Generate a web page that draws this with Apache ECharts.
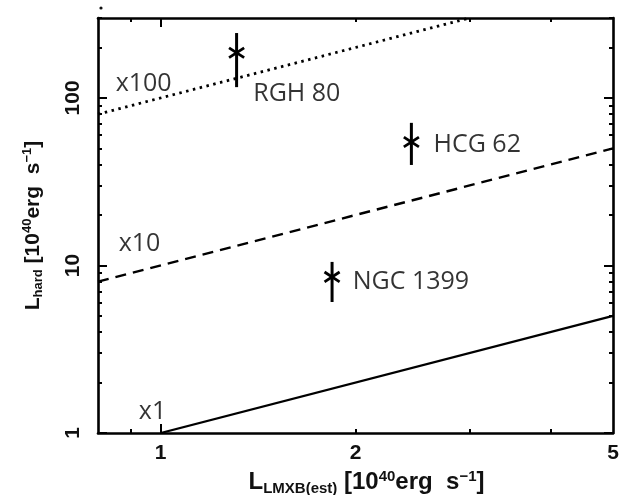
<!DOCTYPE html>
<html><head><meta charset="utf-8">
<script src="https://cdn.jsdelivr.net/npm/echarts@6/dist/echarts.min.js"></script>
<style>html,body{margin:0;padding:0;background:#fff}#c{width:639px;height:495px}</style>
</head><body><div id="c"></div>
<script>
// ---- data ----
const xRange = [0.8, 5];
const yRange = [1, 300];
const xMajorTicks = [1];
const xMinorTicks = [0.9, 2, 3, 4];
const xTickLabels = [1, 2, 5];
const yMajorTicks = [1, 10, 100];
const yMinorTicks = [2, 3, 4, 5, 6, 7, 8, 9, 20, 30, 40, 50, 60, 70, 80, 90, 200, 300];
const yTickLabels = [1, 10, 100];

const ratio1X = [1, 5];
const ratio1Y = [1, 5];
const ratio10X = [0.8, 5];
const ratio10Y = [8, 50];
const ratio100X = [0.8, 3];
const ratio100Y = [80, 300];

const galaxyNames = ['RGH 80', 'HCG 62', 'NGC 1399'];
const galaxyX = [1.31, 2.44, 1.84];
const galaxyY = [186, 54.6, 8.54];
const galaxyLo = [116, 39.8, 6.05];
const galaxyHi = [244, 71, 10.5];

const annotationText = ['x100', 'x10', 'x1', 'RGH 80', 'HCG 62', 'NGC 1399'];
const annotationX = [0.852, 0.861, 0.925, 1.39, 2.64, 1.98];
const annotationY = [121, 13.4, 1.33, 105.7, 52.4, 7.97];

// ---- chart ----
const chart = echarts.init(document.getElementById('c'), null, {renderer: 'canvas'});
const black = '#000';
const lw = 2.6;

function pairs(xs, ys) { return xs.map((x, i) => [x, ys[i]]); }

function xAxisDef(pos, ticks, len, labels, withLine, name) {
  return {
    type: 'log', logBase: 10, min: xRange[0], max: xRange[1], position: pos,
    axisLine: {show: withLine, onZero: false, lineStyle: {color: black, width: lw}},
    axisTick: {show: true, inside: true, length: len, customValues: ticks, lineStyle: {color: black, width: 2}},
    axisLabel: labels ? {show: true, customValues: labels, margin: 10, color: '#111',
      fontFamily: 'Liberation Sans', fontWeight: 'bold', fontSize: 21} : {show: false},
    splitLine: {show: false}, minorTick: {show: false},
    name: name || '', nameLocation: 'middle', nameGap: 35,
    nameTextStyle: {
      fontFamily: 'Liberation Sans', fontWeight: 'bold', fontSize: 24, color: '#111',
      padding: [0, 0, 0, 22],
      rich: {
        m: {fontFamily: 'Liberation Sans', fontWeight: 'bold', fontSize: 24, color: '#111'},
        sub: {fontFamily: 'Liberation Sans', fontWeight: 'bold', fontSize: 15, color: '#111', padding: [12, 0, 0, 0]},
        sup: {fontFamily: 'Liberation Sans', fontWeight: 'bold', fontSize: 15, color: '#111', padding: [0, 0, 12, 0]}
      }
    }
  };
}
function yAxisDef(pos, ticks, len, labels, withLine, name) {
  return {
    type: 'log', logBase: 10, min: yRange[0], max: yRange[1], position: pos,
    axisLine: {show: withLine, onZero: false, lineStyle: {color: black, width: lw}},
    axisTick: {show: true, inside: true, length: len, customValues: ticks, lineStyle: {color: black, width: 2}},
    axisLabel: labels ? {show: true, customValues: labels, rotate: 90, margin: 14, color: '#111',
      fontFamily: 'Liberation Sans', fontWeight: 'bold', fontSize: 21} : {show: false},
    splitLine: {show: false}, minorTick: {show: false},
    name: name || '', nameLocation: 'middle', nameGap: 53,
    nameTextStyle: {
      fontFamily: 'Liberation Sans', fontWeight: 'bold', fontSize: 21, color: '#111',
      rich: {
        m: {fontFamily: 'Liberation Sans', fontWeight: 'bold', fontSize: 21, color: '#111'},
        sub: {fontFamily: 'Liberation Sans', fontWeight: 'bold', fontSize: 13, color: '#111', padding: [11, 0, 0, 0]},
        sup: {fontFamily: 'Liberation Sans', fontWeight: 'bold', fontSize: 13, color: '#111', padding: [0, 0, 11, 0]}
      }
    }
  };
}

const xTitle = '{m|L}{sub|LMXB(est)}{m| [10}{sup|40}{m|erg  s}{sup|\u22121}{m|]}';
const yTitle = '{m|L}{sub|hard}{m| [10}{sup|40}{m|erg  s}{sup|\u22121}{m|]}';

const option = {
  backgroundColor: '#fff',
  animation: false,
  grid: {left: 98, top: 18, right: 26, bottom: 62, containLabel: false, outerBoundsMode: 'none'},
  xAxis: [
    xAxisDef('bottom', xMajorTicks, 9, xTickLabels, true, xTitle),
    xAxisDef('bottom', xMinorTicks, 4, null, false),
    xAxisDef('top', xMajorTicks, 9, null, true),
    xAxisDef('top', xMinorTicks, 4, null, false)
  ],
  yAxis: [
    yAxisDef('left', yMajorTicks, 9, yTickLabels, true, yTitle),
    yAxisDef('left', yMinorTicks, 4, null, false),
    yAxisDef('right', yMajorTicks, 9, null, true),
    yAxisDef('right', yMinorTicks, 4, null, false)
  ],
  series: [
    {type: 'line', data: pairs(ratio1X, ratio1Y), showSymbol: false, symbol: 'none',
      lineStyle: {color: black, width: 2.2, type: 'solid'}, silent: true},
    {type: 'line', data: pairs(ratio10X, ratio10Y), showSymbol: false, symbol: 'none',
      lineStyle: {color: black, width: 2.4, type: [11, 7]}, silent: true},
    {type: 'line', data: pairs(ratio100X, ratio100Y), showSymbol: false, symbol: 'none',
      lineStyle: {color: black, width: 2.8, type: [2.5, 4.5]}, silent: true},
    {
      type: 'custom',
      data: galaxyX.map((x, i) => [x, galaxyY[i], galaxyLo[i], galaxyHi[i]]),
      renderItem: function (params, api) {
        const c = api.coord([api.value(0), api.value(1)]);
        const lo = api.coord([api.value(0), api.value(2)]);
        const hi = api.coord([api.value(0), api.value(3)]);
        const r = 9, a = 33 * Math.PI / 180;
        const dx = r * Math.cos(a), dy = r * Math.sin(a);
        const st = {stroke: black, lineWidth: 3, lineCap: 'butt'};
        return {
          type: 'group',
          children: [
            {type: 'line', shape: {x1: lo[0], y1: lo[1], x2: hi[0], y2: hi[1]}, style: st},
            {type: 'line', shape: {x1: c[0] - dx, y1: c[1] - dy, x2: c[0] + dx, y2: c[1] + dy}, style: {stroke: black, lineWidth: 2.8}},
            {type: 'line', shape: {x1: c[0] - dx, y1: c[1] + dy, x2: c[0] + dx, y2: c[1] - dy}, style: {stroke: black, lineWidth: 2.8}}
          ]
        };
      },
      silent: true, clip: false
    },
    {
      type: 'scatter',
      symbolSize: 0,
      data: annotationText.map((t, i) => ({name: t, value: [annotationX[i], annotationY[i]]})),
      label: {show: true, position: 'right', distance: 0, formatter: '{b}',
        fontFamily: 'Open Sans', fontSize: 25, color: '#000'},
      silent: true
    }
  ],
  graphic: [
    {type: 'circle', shape: {cx: 101, cy: 8, r: 1.6}, style: {fill: '#111'}}
  ]
};
chart.setOption(option);
</script>
</body></html>
